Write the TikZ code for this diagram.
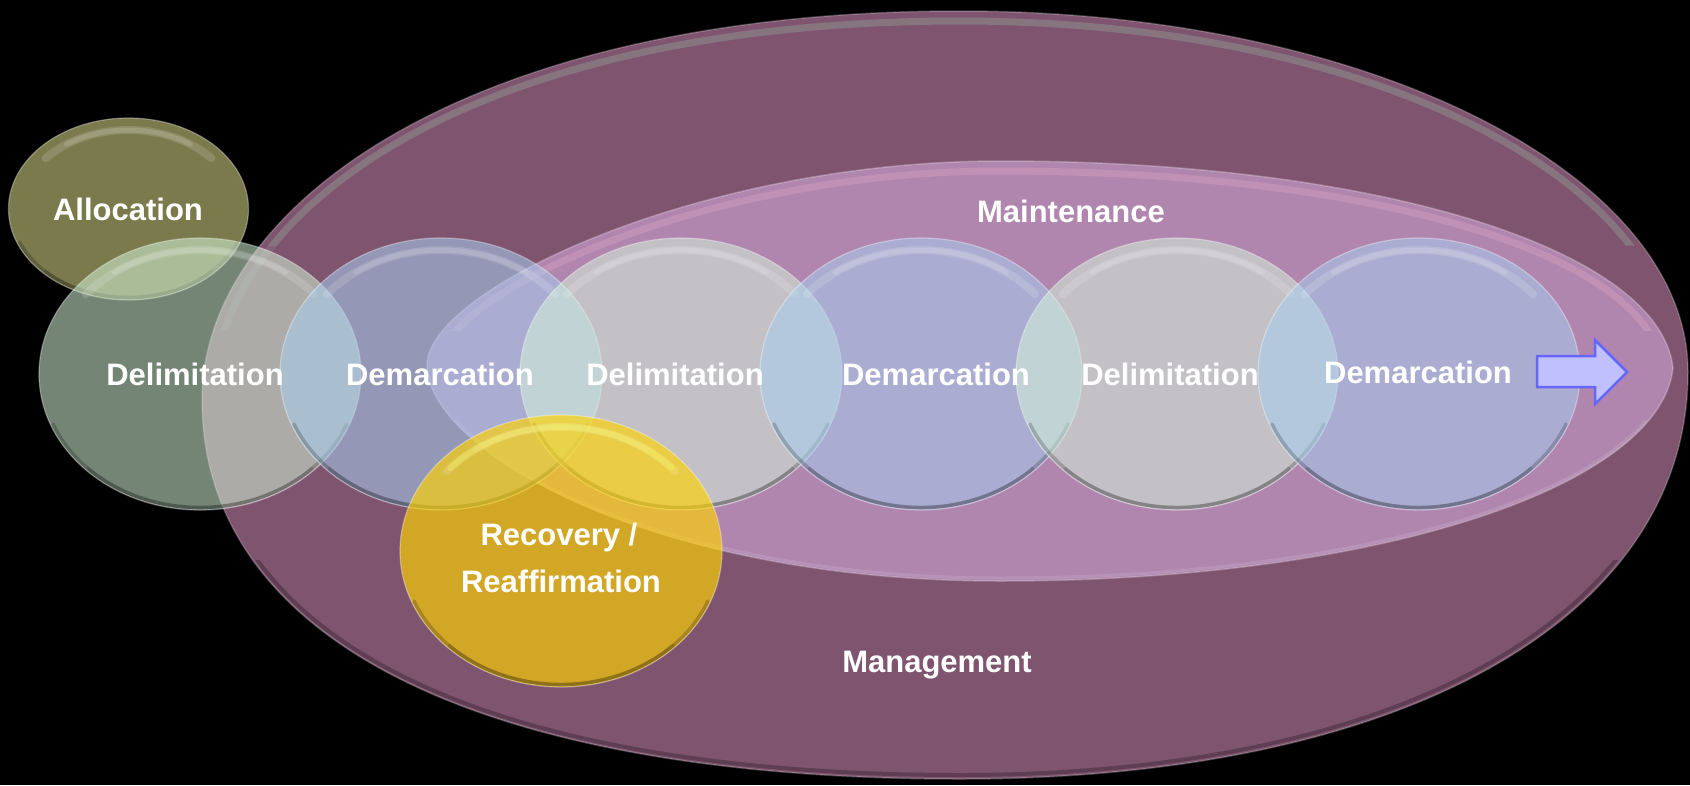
\documentclass[tikz,border=0pt]{standalone}
\usepackage{fontspec}
\setmainfont{Liberation Sans}
\usetikzlibrary{shapes.geometric}
\definecolor{mgmt}{RGB}{127,84,111}
\definecolor{maint}{RGB}{176,133,174}
\definecolor{alloc}{RGB}{123,122,77}
\definecolor{delim}{RGB}{212,243,216}
\definecolor{demarc}{RGB}{166,207,239}
\definecolor{recov}{RGB}{255,212,0}
\definecolor{arrowfill}{RGB}{192,192,255}
\definecolor{arrowline}{RGB}{102,102,255}
\definecolor{mgloss}{RGB}{140,140,140}
\definecolor{maintgloss}{RGB}{200,150,185}
\definecolor{recgloss}{RGB}{245,240,90}
\tikzset{
  bubble/.style={ellipse, inner sep=0pt, outer sep=0pt, draw=white, draw opacity=0.35, line width=1.2pt},
  delimfill/.style={fill=delim, fill opacity=0.55},
  demarcfill/.style={fill=demarc, fill opacity=0.55},
  allocfill/.style={fill=alloc},
  recfill/.style={fill=recov, fill opacity=0.65},
  shine/.style={draw=white, line width=8pt, opacity=0.14, line cap=round},
  shade/.style={draw=black, line width=3.5pt, opacity=0.2, line cap=round},
  lbl/.style={text=white, font=\bfseries\fontsize{31}{37}\selectfont, anchor=base, inner sep=0pt},
}
% name, x, y, rx, ry, fill style
\newcommand\glassbub[6]{%
  \node[bubble, #6, minimum width={2*#4}, minimum height={2*#5}] (#1) at (#2,#3) {};
  \draw[shine] (#2,#3) ++(220:{#4-12} and {#5-12}) arc[start angle=220, end angle=320, x radius={#4-12}, y radius={#5-12}];
  \draw[shine, line width=5pt, opacity=0.14] (#2,#3) ++(235:{#4-12} and {#5-12}) arc[start angle=235, end angle=305, x radius={#4-12}, y radius={#5-12}];
  \draw[shade] (#2,#3) ++(22:{#4-2.5} and {#5-2.5}) arc[start angle=22, end angle=158, x radius={#4-2.5}, y radius={#5-2.5}];
  \draw[shade, opacity=0.15] (#2,#3) ++(45:{#4-2.5} and {#5-2.5}) arc[start angle=45, end angle=135, x radius={#4-2.5}, y radius={#5-2.5}];
}
\begin{document}
\begin{tikzpicture}[x=1pt, y=-1pt]
  \fill[black] (0,0) rectangle (1690,785);
  \useasboundingbox (0,0) rectangle (1690,785);

  % Management
  \path[fill=mgmt, draw=white, draw opacity=0.22, line width=1.5pt] (202,400) .. controls (202,205) and (470,11) .. (960,11)
     .. controls (1370,11) and (1688,175) .. (1688,372)
     .. controls (1688,620) and (1400,779) .. (960,779)
     .. controls (480,779) and (202,640) .. cycle;
  \coordinate (mgmtleft) at (202,400);
  \begin{scope}
    \clip (0,0) rectangle (960,330) (0,0) rectangle (1690,245);
    \draw[draw=mgloss, line width=7pt, opacity=0.3] (213,400) .. controls (213,208) and (475,21) .. (960,21)
       .. controls (1365,21) and (1677,178) .. (1677,372);
  \end{scope}
  \begin{scope}
    \clip (0,0) rectangle (1690,245);
    \draw[draw=mgloss, line width=7pt, opacity=0.4] (213,400) .. controls (213,208) and (475,21) .. (960,21)
       .. controls (1365,21) and (1677,178) .. (1677,372);
  \end{scope}
  \begin{scope}
    \clip (0,560) rectangle (1690,785);
    \draw[draw=black, line width=4pt, opacity=0.25] (1684,372) .. controls (1684,616) and (1398,775) .. (960,775)
       .. controls (482,775) and (206,638) .. (206,400);
  \end{scope}

  % Maintenance
  \path[fill=maint, draw=white, draw opacity=0.25, line width=1.5pt] (427,365) .. controls (427,290) and (700,161) .. (1000,161)
     .. controls (1380,161) and (1660,250) .. (1673,368)
     .. controls (1660,486) and (1380,581) .. (1000,581)
     .. controls (650,581) and (427,450) .. cycle;
  \begin{scope}
    \clip (0,0) rectangle (1690,330);
    \draw[draw=maintgloss, line width=7pt, opacity=0.7] (439,365) .. controls (439,295) and (705,171) .. (1000,171)
       .. controls (1375,171) and (1650,255) .. (1662,368);
  \end{scope}
  \begin{scope}
    \clip (0,420) rectangle (1690,785);
    \draw[draw=white, line width=3pt, opacity=0.12] (1671,368) .. controls (1658,484) and (1380,578) .. (1000,578)
       .. controls (652,578) and (430,450) .. (430,365);
  \end{scope}

  % Bubbles
  \glassbub{alloc}{128.5}{209}{120}{91}{allocfill}
  \glassbub{delA}{200}{374}{161}{136}{delimfill}
  \glassbub{demA}{441}{374}{161}{136}{demarcfill}
  \glassbub{delB}{681}{374}{161}{136}{delimfill}
  \glassbub{demB}{921}{374}{161}{136}{demarcfill}
  \glassbub{delC}{1177}{374}{161}{136}{delimfill}
  \glassbub{demC}{1419}{374}{161}{136}{demarcfill}
  \glassbub{rec}{561}{551}{161}{136}{recfill}
  \draw[draw=recgloss, line width=6pt, opacity=0.4, line cap=round] (561,551) ++(222:149 and 124) arc[start angle=222, end angle=318, x radius=149, y radius=124];

  % Arrow
  \draw[fill=arrowfill, draw=arrowline, line width=2.5pt, line join=miter]
    (1537,356) -- (1595,356) -- (1595,340) -- (1627,372) -- (1595,404) -- (1595,387) -- (1537,387) -- cycle;

  % Labels
  \node[lbl] (tAlloc) at (128,220) {Allocation};
  \node[lbl] (tDelA) at (195,385) {Delimitation};
  \node[lbl] (tDemA) at (440,385) {Demarcation};
  \node[lbl] (tDelB) at (675,385) {Delimitation};
  \node[lbl] (tDemB) at (936,385) {Demarcation};
  \node[lbl] (tDelC) at (1170,385) {Delimitation};
  \node[lbl] (tDemC) at (1418,383) {Demarcation};
  \node[lbl] (tMaint) at (1071,222) {Maintenance};
  \node[lbl] (tMgmt) at (937,672) {Management};
  \node[lbl] (tRec1) at (559,545) {Recovery /};
  \node[lbl] (tRec2) at (561,592) {Reaffirmation};
\end{tikzpicture}
\end{document}
